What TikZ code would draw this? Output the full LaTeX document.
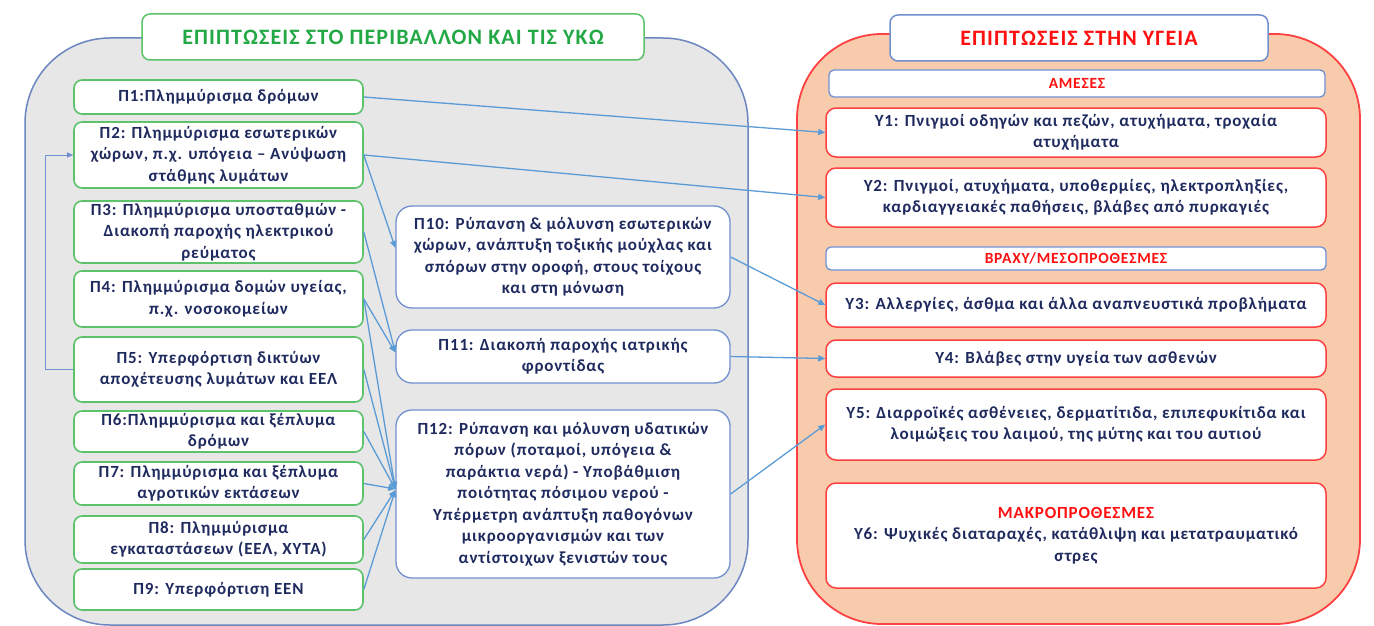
\documentclass[tikz,border=0pt]{standalone}
\usepackage{fontspec}
\setmainfont{Carlito}[LetterSpace=5]
\usetikzlibrary{arrows.meta,calc}
\definecolor{navy}{HTML}{1F2A5E}
\definecolor{gbord}{HTML}{5CC36A}
\definecolor{bbord}{HTML}{7090D0}
\definecolor{panelg}{HTML}{E7E7E7}
\definecolor{panelb}{HTML}{6B86C0}
\definecolor{peach}{HTML}{F8CBAD}
\definecolor{redb}{HTML}{FF4040}
\definecolor{arr}{HTML}{5B9BD5}
\definecolor{titleg}{HTML}{22A845}
\definecolor{titler}{HTML}{FF1010}
\tikzset{
  sz/.style 2 args={minimum width=#1pt, minimum height=#2pt},
  txt/.style={font=\fontsize{17}{21.5}\selectfont\bfseries, text=navy, align=center, inner sep=1pt},
  pbox/.style={txt, draw=gbord, line width=1.6pt, fill=white, rounded corners=8pt},
  mbox/.style={txt, draw=bbord, line width=1.3pt, fill=white, rounded corners=16pt},
  ybox/.style={txt, draw=redb, line width=1.5pt, fill=white, rounded corners=10pt},
  barbox/.style={draw=bbord, line width=1.3pt, fill=white, rounded corners=5pt, text=titler,
    font=\fontsize{15.5}{17}\selectfont\bfseries, inner sep=0pt},
  titlebox/.style={line width=1.5pt, fill=white, rounded corners=8pt,
    font=\fontsize{22}{24}\selectfont\bfseries, inner sep=0pt},
  conn/.style={draw=arr, line width=1.3pt, -{Triangle[length=7pt,width=6pt]}},
  loopline/.style={draw=bbord, line width=1pt, -{Triangle[length=6pt,width=5pt]}}
}
\begin{document}
\begin{tikzpicture}[x=1pt,y=-1pt]
\useasboundingbox (0,0) rectangle (1374,626);
% panels
\draw[fill=panelg, draw=panelb, line width=1.5pt, rounded corners=85pt] (25,38) rectangle (748,625);
\draw[fill=peach, draw=redb, line width=1.8pt, rounded corners=85pt] (797,34) rectangle (1360,624);
% titles
\node[titlebox, draw=gbord, text=titleg, sz={502}{46}] (tl) at (393,37) {ΕΠΙΠΤΩΣΕΙΣ ΣΤΟ ΠΕΡΙΒΑΛΛΟΝ ΚΑΙ ΤΙΣ ΥΚΩ};
\node[titlebox, draw=bbord, text=titler, sz={378}{46}] (tr) at (1079,38) {ΕΠΙΠΤΩΣΕΙΣ ΣΤΗΝ ΥΓΕΙΑ};
% left boxes
\node[pbox, sz={289}{34}] (p1) at (218.5,97) {Π1:Πλημμύρισμα δρόμων};
\node[pbox, sz={289}{66}] (p2) at (218.5,155) {Π2: Πλημμύρισμα εσωτερικών\\χώρων, π.χ. υπόγεια – Ανύψωση\\στάθμης λυμάτων};
\node[pbox, sz={289}{62}] (p3) at (218.5,232) {Π3: Πλημμύρισμα υποσταθμών -\\Διακοπή παροχής ηλεκτρικού\\ρεύματος};
\node[pbox, sz={289}{56}] (p4) at (218.5,299) {Π4: Πλημμύρισμα δομών υγείας,\\π.χ. νοσοκομείων};
\node[pbox, sz={289}{65}] (p5) at (218.5,369.5) {Π5: Υπερφόρτιση δικτύων\\αποχέτευσης λυμάτων και ΕΕΛ};
\node[pbox, sz={289}{41}] (p6) at (218.5,431.5) {Π6:Πλημμύρισμα και ξέπλυμα\\δρόμων};
\node[pbox, sz={289}{43}] (p7) at (218.5,483.5) {Π7: Πλημμύρισμα και ξέπλυμα\\αγροτικών εκτάσεων};
\node[pbox, sz={289}{47}] (p8) at (218.5,539.5) {Π8: Πλημμύρισμα\\εγκαταστάσεων (ΕΕΛ, ΧΥΤΑ)};
\node[pbox, sz={289}{41}] (p9) at (218.5,589.5) {Π9: Υπερφόρτιση ΕΕΝ};
% middle boxes
\node[mbox, sz={334}{102}] (p10) at (563,257) {Π10: Ρύπανση \& μόλυνση εσωτερικών\\χώρων, ανάπτυξη τοξικής μούχλας και\\σπόρων στην οροφή, στους τοίχους\\και στη μόνωση};
\node[mbox, sz={334}{53}] (p11) at (563,356.5) {Π11: Διακοπή παροχής ιατρικής\\φροντίδας};
\node[mbox, sz={334}{168}] (p12) at (563,494) {Π12: Ρύπανση και μόλυνση υδατικών\\πόρων (ποταμοί, υπόγεια \&\\παράκτια νερά) - Υποβάθμιση\\ποιότητας πόσιμου νερού -\\Υπέρμετρη ανάπτυξη παθογόνων\\μικροοργανισμών και των\\αντίστοιχων ξενιστών τους};
% right boxes
\node[barbox, sz={496}{27}] (am) at (1077,83.5) {ΑΜΕΣΕΣ};
\node[ybox, sz={500}{49}] (y1) at (1076,132.5) {Υ1: Πνιγμοί οδηγών και πεζών, ατυχήματα, τροχαία\\ατυχήματα};
\node[ybox, sz={500}{59}] (y2) at (1076,197.5) {Υ2: Πνιγμοί, ατυχήματα, υποθερμίες, ηλεκτροπληξίες,\\καρδιαγγειακές παθήσεις, βλάβες από πυρκαγιές};
\node[barbox, sz={500}{23}] (bm) at (1076,258.5) {ΒΡΑΧΥ/ΜΕΣΟΠΡΟΘΕΣΜΕΣ};
\node[ybox, sz={500}{44}] (y3) at (1076,305) {Υ3: Αλλεργίες, άσθμα και άλλα αναπνευστικά προβλήματα};
\node[ybox, sz={500}{37}] (y4) at (1076,358.5) {Υ4: Βλάβες στην υγεία των ασθενών};
\node[ybox, sz={500}{71}] (y5) at (1076,424.5) {Υ5: Διαρροϊκές ασθένειες, δερματίτιδα, επιπεφυκίτιδα και\\λοιμώξεις του λαιμού, της μύτης και του αυτιού};
\node[ybox, sz={500}{105}] (y6) at (1076,535.5) {\textcolor{titler}{ΜΑΚΡΟΠΡΟΘΕΣΜΕΣ}\\Υ6: Ψυχικές διαταραχές, κατάθλιψη και μετατραυματικό\\στρες};
% connectors
\draw[conn] (p1.east) -- (y1.west);
\draw[conn] (p2.east) -- (y2.west);
\draw[conn] (p2.east) -- ([yshift=9pt]p10.west);
\draw[conn] (p3.east) -- ([yshift=4pt]p11.west);
\draw[conn] (p4.east) -- ([yshift=4pt]p11.west);
\draw[conn] (p4.east) -- ([yshift=5pt]p12.west);
\draw[conn] (p5.east) -- ([yshift=5pt]p12.west);
\draw[conn] (p6.east) -- ([yshift=5pt]p12.west);
\draw[conn] (p7.east) -- ([yshift=5pt]p12.west);
\draw[conn] (p8.east) -- ([yshift=4pt]p12.west);
\draw[conn] (p9.east) -- ([yshift=4pt]p12.west);
\draw[conn] (p10.east) -- (y3.west);
\draw[conn] (p11.east) -- (y4.west);
\draw[conn] (p12.east) -- (y5.west);
\draw[loopline] (p5.west) -- ++(-28,0) |- (p2.west);
\end{tikzpicture}
\end{document}
